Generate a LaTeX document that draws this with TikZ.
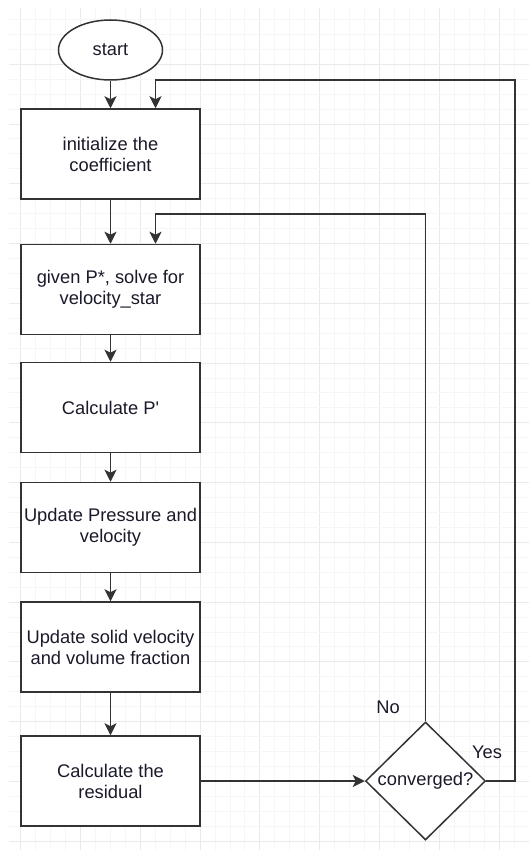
\documentclass[tikz,border=0pt]{standalone}
\usepackage{fontspec}
\setmainfont{Liberation Sans}
\usetikzlibrary{shapes.geometric,arrows.meta}
\definecolor{gridminor}{HTML}{F6F6F6}
\definecolor{gridmajor}{HTML}{EAEAEA}
\definecolor{edgecol}{HTML}{333333}
\definecolor{txtcol}{HTML}{1A1A2A}
\begin{document}
\begin{tikzpicture}[x=1pt,y=-1pt,
  lbl/.style={font=\fontsize{18.3}{21}\selectfont, text=txtcol, inner sep=0pt},
  proc/.style={lbl, draw=edgecol, line width=1.5pt, fill=white, rectangle,
    minimum width=179pt, minimum height=90pt, align=center},
  term/.style={lbl, draw=edgecol, line width=1.5pt, fill=white, ellipse,
    minimum width=104pt, minimum height=60pt},
  decide/.style={lbl, draw=edgecol, line width=1.5pt, fill=white, diamond,
    minimum width=120pt, minimum height=118pt},
  arr/.style={draw=edgecol, line width=1.5pt,
    -{Stealth[length=12pt,width=12pt,inset=3pt]}},
  conn/.style={draw=edgecol, line width=1.5pt}
]
\useasboundingbox (0,0) rectangle (529,850);
\fill[white] (0,0) rectangle (529,850);
% grid
\begin{scope}
\clip (9,9) rectangle (529,850);
\foreach \i in {-1,...,35}{
  \pgfmathsetmacro{\gx}{20.7+14.95*\i}
  \pgfmathtruncatemacro{\m}{mod(\i+400,4)}
  \ifnum\m=0
    \draw[gridmajor, line width=1pt] (\gx,0) -- (\gx,850);
  \else
    \draw[gridminor, line width=1pt] (\gx,0) -- (\gx,850);
  \fi
}
\foreach \j in {-4,...,54}{
  \pgfmathsetmacro{\gy}{64.3+14.94*\j}
  \pgfmathtruncatemacro{\m}{mod(\j+400,4)}
  \ifnum\m=0
    \draw[gridmajor, line width=1pt] (0,\gy) -- (529,\gy);
  \else
    \draw[gridminor, line width=1pt] (0,\gy) -- (529,\gy);
  \fi
}
\end{scope}

% nodes
\node[term] (start) at (110.5,50) {start};
\node[proc] (b1) at (110.5,154) {initialize the\\coefficient};
\node[proc] (b2) at (110.5,289.5) {given P*, solve for\\velocity\_star};
\node[proc] (b3) at (110.5,407.5) {Calculate P\textquotesingle};
\node[proc] (b4) at (110.5,527.5) {Update Pressure and\\velocity};
\node[proc] (b5) at (110.5,647) {Update solid velocity\\and volume fraction};
\node[proc] (b6) at (110.5,781) {Calculate the\\residual};
\node[decide] (dia) at (425.5,781) {converged?};
\node[lbl] (no) at (388,707) {No};
\node[lbl] (yes) at (487,752) {Yes};

% helper coordinates
\coordinate (in1) at ([xshift=45pt]b1.north);
\coordinate (in2) at ([xshift=45pt]b2.north);
\coordinate (yr) at (515,80);
\coordinate (nr) at (425.5,214);

% connectors
\draw[arr] (start) -- (b1);
\draw[arr] (b1) -- (b2);
\draw[arr] (b2) -- (b3);
\draw[arr] (b3) -- (b4);
\draw[arr] (b4) -- (b5);
\draw[arr] (b5) -- (b6);
\draw[arr] (b6) -- (dia);
\draw[arr] (dia.east) -| (yr) -| (in1);
\draw[arr] (dia.north) -- (nr) -| (in2);
\end{tikzpicture}
\end{document}
